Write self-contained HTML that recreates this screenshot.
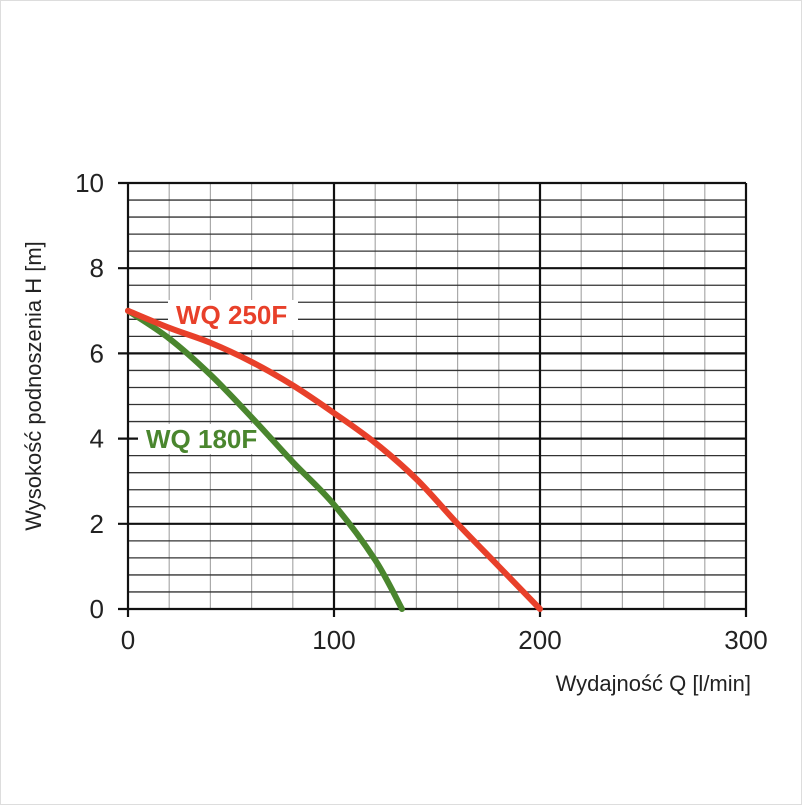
<!DOCTYPE html>
<html><head><meta charset="utf-8"><style>
body{margin:0;background:#fff}
#wrap{width:802px;height:805px;position:relative;background:#fff;border:1px solid #ddd;box-sizing:border-box}
svg text{font-family:"Liberation Sans",sans-serif}
</style></head><body>
<div id="wrap">
<svg id="chart" width="800" height="803"></svg>
</div>
<script>
const flowQ250 = [0,20,40,60,80,100,120,140,160,180,200];
const headH250 = [7,6.6,6.25,5.8,5.25,4.6,3.9,3.05,2.0,1.0,0];
const flowQ180 = [0,20,40,60,80,100,120,133];
const headH180 = [7,6.35,5.5,4.5,3.45,2.45,1.15,0];
const xTicks = [0,100,200,300];
const yTicks = [0,2,4,6,8,10];
const NS='http://www.w3.org/2000/svg';
const svg=document.getElementById('chart');
const X0=127,X1=745,Y0=608,Y1=182;
const sx=v=>X0+(v/300)*(X1-X0);
const sy=v=>Y0-(v/10)*(Y0-Y1);
function mk(tag,attrs,parent){const e=document.createElementNS(NS,tag);for(const k in attrs)e.setAttribute(k,attrs[k]);(parent||svg).appendChild(e);return e;}
const grid=mk('g',{});


for(let v=0;v<=300;v+=20){if(v%100===0)continue;const l=mk('line',{x1:sx(v),x2:sx(v),y1:Y1,y2:Y0,stroke:'#aaa','stroke-width':1.2},grid);}
for(let v=0;v<=10.001;v+=0.4){const r=Math.round(v*10)/10;if(r%2===0)continue;const l=mk('line',{x1:X0,x2:X1,y1:sy(r),y2:sy(r),stroke:'#333','stroke-width':1.3},grid);}
xTicks.forEach(t=>{const l=mk('line',{x1:sx(t),x2:sx(t),y1:Y1,y2:Y0+8,stroke:'#111','stroke-width':2.2},grid);
const tx=mk('text',{x:sx(t),y:Y0+40,'text-anchor':'middle','font-size':26,fill:'#222'});tx.textContent=t;});
yTicks.forEach(t=>{const l=mk('line',{x1:X0-10,x2:X1,y1:sy(t),y2:sy(t),stroke:'#111','stroke-width':2.2},grid);
const tx=mk('text',{x:X0-24,y:sy(t)+9,'text-anchor':'end','font-size':26,fill:'#222'});tx.textContent=t;});
function label(x,y,w,txt,color,name){mk('rect',{x:x-8,y:y-24,width:w,height:30,fill:'#fff'});const t=mk('text',{x:x,y:y,'font-size':26,fill:color,'font-weight':'bold'});t.textContent=txt;}
label(175,323,130,'WQ 250F','#e8402a','label-wq-250f');
label(145,447,130,'WQ 180F','#4a862e','label-wq-180f');
function series(xs,ys,color,name){const P=xs.map((x,i)=>[sx(x),sy(ys[i])]);let d='M'+P[0][0]+','+P[0][1];
for(let i=0;i<P.length-1;i++){const p0=P[Math.max(0,i-1)],p1=P[i],p2=P[i+1],p3=P[Math.min(P.length-1,i+2)];
const c1=[p1[0]+(p2[0]-p0[0])/6,p1[1]+(p2[1]-p0[1])/6],c2=[p2[0]-(p3[0]-p1[0])/6,p2[1]-(p3[1]-p1[1])/6];
d+=` C${c1[0]},${c1[1]} ${c2[0]},${c2[1]} ${p2[0]},${p2[1]}`;}
const p=mk('path',{d:d,fill:'none',stroke:color,'stroke-width':6,'stroke-linejoin':'round','stroke-linecap':'round'});}
series(flowQ180,headH180,'#4a862e','curve-wq-180f');
series(flowQ250,headH250,'#e8402a','curve-wq-250f');
const xt=mk('text',{x:750,y:690,'text-anchor':'end','font-size':22,fill:'#222'});xt.textContent='Wydajność Q [l/min]';
const yt=mk('text',{x:0,y:0,'text-anchor':'middle','font-size':22,fill:'#222',transform:'translate(40,385) rotate(-90)'});yt.textContent='Wysokość podnoszenia H [m]';
</script>
</body></html>
